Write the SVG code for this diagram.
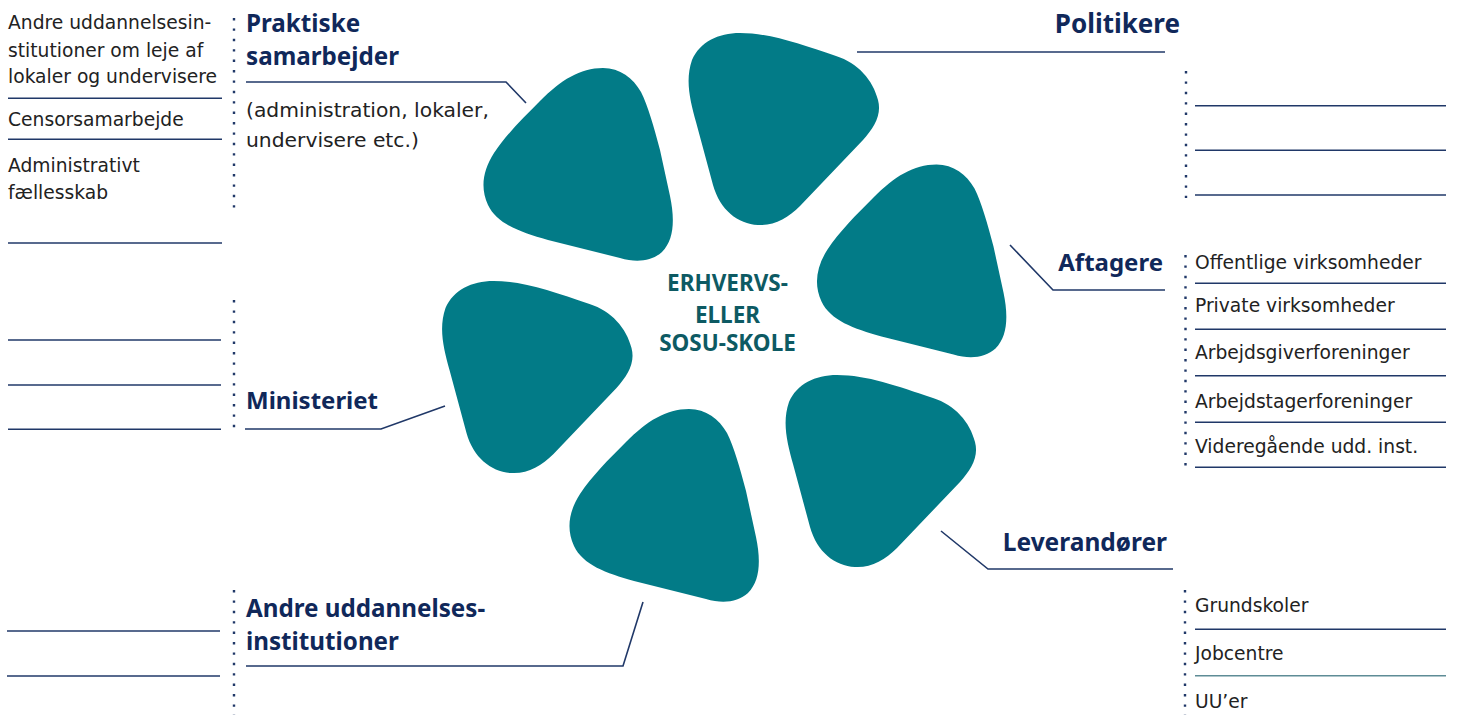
<svg xmlns="http://www.w3.org/2000/svg" width="1460" height="715" viewBox="0 0 1460 715">
<defs>
<style>
.petal{fill:#027b87}
.ln{stroke:#203868;stroke-width:1.6;fill:none}
.dot{stroke:#203868;stroke-width:2.4;stroke-dasharray:2.4 8;fill:none}
.body{font-family:"DejaVu Sans",Verdana,sans-serif;font-size:18.7px;fill:#222}
.paren{font-family:"DejaVu Sans",Verdana,sans-serif;font-size:20.3px;fill:#222}
.head{font-family:"Noto Sans","Open Sans",sans-serif;font-weight:700;fill:#10285a}
.center{font-family:"Noto Sans","Open Sans",sans-serif;font-weight:700;font-size:22.5px;fill:#0d5a63;text-anchor:middle}
</style>
<path id="shapeA" d="M 603 68 C 620 68 633 78 641 92 C 648 106 654 127 660 150 L 670 196 C 675 220 674 240 662 252 C 652 261 637 263 620 258 L 548 240 C 520 232 497 224 488 205 C 480 188 483 170 494 153 C 506 135 522 119 540 101 C 561 80 580 68 603 68 Z"/>
<path id="shapeB" d="M 740 33 C 770 33 800 44 836 56 C 858 63 873 80 878 100 C 882 115 874 128 863 140 L 800 206 C 788 218 774 226 758 225 C 738 224 720 210 713 185 L 696 122 C 690 100 685 80 692 60 C 700 42 718 33 740 33 Z"/>
</defs>
<rect width="1460" height="715" fill="#fff"/>

<g id="hub">
<use href="#shapeA" class="petal"/>
<use href="#shapeB" class="petal"/>
<use href="#shapeA" class="petal" transform="translate(333.5 96.5)"/>
<use href="#shapeB" class="petal" transform="translate(97 342)"/>
<use href="#shapeA" class="petal" transform="translate(86 341)"/>
<use href="#shapeB" class="petal" transform="translate(-246.5 248)"/>
<text class="center"><tspan x="727.5" y="291">ERHVERVS-</tspan><tspan x="727.5" y="323">ELLER</tspan><tspan x="727.5" y="351">SOSU-SKOLE</tspan></text>
</g>

<g id="connectors">
<polyline class="ln" points="246,82 506,82 526,103"/>
<polyline class="ln" points="857,52 1165,52"/>
<polyline class="ln" points="1010,245 1053,290 1165,290"/>
<polyline class="ln" points="245,429 381,429 445,406"/>
<polyline class="ln" points="941,531 988,569 1173,569"/>
<polyline class="ln" points="246,666 623,666 643,602"/>
</g>

<g id="praktiske">
<text class="head" font-size="24.2"><tspan x="246" y="31.5">Praktiske</tspan><tspan x="246" y="64.5">samarbejder</tspan></text>
<text class="paren"><tspan x="246" y="117">(administration, lokaler,</tspan><tspan x="246" y="147">undervisere etc.)</tspan></text>
<line class="dot" x1="234" y1="18" x2="234" y2="212"/>
</g>

<g id="praktiske-list">
<text class="body"><tspan x="8" y="29">Andre uddannelsesin-</tspan><tspan x="8" y="57">stitutioner om leje af</tspan><tspan x="8" y="83">lokaler og undervisere</tspan></text>
<line class="ln" x1="8" y1="98.3" x2="222" y2="98.3"/>
<text class="body" x="8" y="126">Censorsamarbejde</text>
<line class="ln" x1="8" y1="139.3" x2="222" y2="139.3"/>
<text class="body"><tspan x="8" y="171.5">Administrativt</tspan><tspan x="8" y="199">fællesskab</tspan></text>
<line class="ln" x1="8" y1="243" x2="222" y2="243"/>
</g>

<g id="politikere">
<text class="head" font-size="26" x="1180" y="33" text-anchor="end">Politikere</text>
<line class="dot" x1="1186" y1="71" x2="1186" y2="198"/>
<line class="ln" x1="1195" y1="105.7" x2="1446" y2="105.7"/>
<line class="ln" x1="1195" y1="150.3" x2="1446" y2="150.3"/>
<line class="ln" x1="1195" y1="195" x2="1446" y2="195"/>
</g>

<g id="aftagere">
<text class="head" font-size="24" x="1163" y="270.5" text-anchor="end">Aftagere</text>
<line class="dot" x1="1185.5" y1="255" x2="1185.5" y2="468"/>
<text class="body" x="1195" y="269">Offentlige virksomheder</text>
<line class="ln" x1="1195" y1="283.3" x2="1446" y2="283.3"/>
<text class="body" x="1195" y="311.5">Private virksomheder</text>
<line class="ln" x1="1195" y1="329.3" x2="1446" y2="329.3"/>
<text class="body" x="1195" y="359">Arbejdsgiverforeninger</text>
<line class="ln" x1="1195" y1="375.7" x2="1446" y2="375.7"/>
<text class="body" x="1195" y="407.5">Arbejdstagerforeninger</text>
<line class="ln" x1="1195" y1="422.3" x2="1446" y2="422.3"/>
<text class="body" x="1195" y="452.5">Videregående udd. inst.</text>
<line class="ln" x1="1195" y1="467.3" x2="1446" y2="467.3"/>
</g>

<g id="ministeriet">
<text class="head" font-size="24" x="246" y="409">Ministeriet</text>
<line class="dot" x1="234" y1="300" x2="234" y2="432"/>
<line class="ln" x1="8" y1="340" x2="221" y2="340"/>
<line class="ln" x1="8" y1="385" x2="221" y2="385"/>
<line class="ln" x1="8" y1="429.3" x2="221" y2="429.3"/>
</g>

<g id="leverandoerer">
<text class="head" font-size="24.5" x="1167" y="550.5" text-anchor="end">Leverandører</text>
<line class="dot" x1="1185" y1="590" x2="1185" y2="715"/>
<text class="body" x="1195" y="611.5">Grundskoler</text>
<line class="ln" x1="1195" y1="629.3" x2="1446" y2="629.3"/>
<text class="body" x="1195" y="660">Jobcentre</text>
<line x1="1195" y1="675.7" x2="1446" y2="675.7" stroke="#5e8c96" stroke-width="1.6"/>
<text class="body" x="1195" y="708">UU’er</text>
</g>

<g id="andre">
<text class="head" font-size="24.2"><tspan x="246" y="617">Andre uddannelses-</tspan><tspan x="246" y="650">institutioner</tspan></text>
<line class="dot" x1="234" y1="590" x2="234" y2="715"/>
<line class="ln" x1="7" y1="631" x2="220" y2="631"/>
<line class="ln" x1="7" y1="676" x2="220" y2="676"/>
</g>
</svg>
